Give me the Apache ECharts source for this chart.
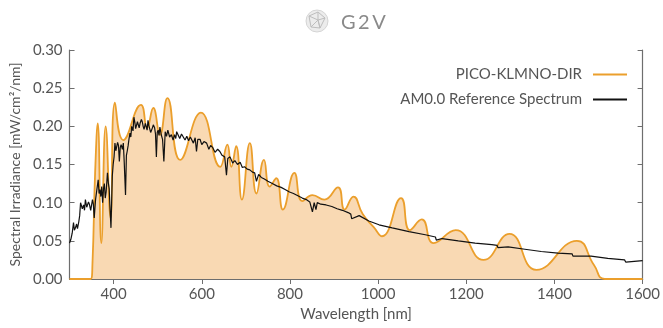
<!DOCTYPE html>
<html>
<head>
<meta charset="utf-8">
<script src="https://cdn.jsdelivr.net/npm/echarts@6/dist/echarts.min.js"></script>
<style>
  body { margin: 0; padding: 0; background: #fff; }
  #chart { width: 663px; height: 328px; }
</style>
</head>
<body>
<div id="chart"></div>
<script>
// PICO-KLMNO-DIR (orange, smooth)
var picoWl = [300, 348, 352, 358, 364, 372, 382, 393, 403, 422, 462, 476, 490, 505, 522, 551, 598, 642, 658, 667, 678, 691, 709, 724, 741, 754, 769, 784, 810, 828, 851, 878, 909, 924, 944, 965, 990, 1009, 1052, 1072, 1099, 1126, 1176, 1239, 1298, 1359, 1451, 1490, 1514, 1600];
var picoVal = [0, 0, 0.02, 0.139, 0.204, 0.047, 0.200, 0.080, 0.231, 0.182, 0.228, 0.198, 0.224, 0.189, 0.237, 0.156, 0.218, 0.147, 0.176, 0.147, 0.174, 0.104, 0.178, 0.112, 0.156, 0.121, 0.132, 0.091, 0.139, 0.102, 0.110, 0.104, 0.120, 0.091, 0.108, 0.085, 0.068, 0.056, 0.106, 0.064, 0.078, 0.047, 0.064, 0.025, 0.059, 0.012, 0.050, 0.018, 0, 0];

// AM0.0 reference spectrum (black)
var amWl = [300, 303, 306, 309, 311, 314, 316, 318, 321, 323, 325, 326, 329, 332, 334, 336, 339, 341, 343, 345, 348, 352, 354, 356, 359, 362, 365, 367, 369, 371, 373, 375, 377, 379, 381, 383, 386, 388, 390, 392, 394, 397, 399, 401, 403, 405, 407, 409, 411, 413, 415, 417, 420, 422, 424, 427, 429, 431, 433, 435, 437, 439, 441, 444, 446, 448, 450, 452, 454, 456, 458, 460, 463, 465, 467, 469, 472, 474, 476, 478, 480, 482, 484, 486, 488, 490, 493, 495, 497, 499, 501, 503, 505, 508, 511, 514, 517, 520, 523, 527, 531, 535, 538, 541, 543, 546, 550, 554, 558, 562, 566, 570, 574, 577, 581, 585, 588, 591, 596, 600, 605, 611, 616, 620, 625, 630, 636, 641, 646, 652, 656, 659, 664, 670, 675, 681, 687, 692, 697, 703, 709, 715, 720, 724, 729, 735, 742, 750, 760, 770, 780, 790, 799, 808, 818, 828, 837, 845, 848, 851, 855, 859, 862, 870, 882, 895, 907, 919, 932, 938, 940, 957, 979, 1002, 1032, 1070, 1107, 1130, 1132, 1145, 1182, 1220, 1258, 1270, 1272, 1295, 1333, 1370, 1408, 1440, 1442, 1446, 1483, 1521, 1559, 1562, 1600];
var amVal = [0.047, 0.052, 0.060, 0.074, 0.064, 0.068, 0.072, 0.066, 0.075, 0.083, 0.100, 0.099, 0.092, 0.097, 0.090, 0.104, 0.094, 0.095, 0.101, 0.098, 0.090, 0.104, 0.098, 0.080, 0.104, 0.117, 0.130, 0.112, 0.117, 0.108, 0.121, 0.100, 0.118, 0.125, 0.106, 0.114, 0.139, 0.126, 0.118, 0.091, 0.067, 0.135, 0.150, 0.160, 0.178, 0.168, 0.166, 0.179, 0.175, 0.154, 0.172, 0.176, 0.170, 0.178, 0.154, 0.110, 0.162, 0.168, 0.175, 0.184, 0.191, 0.186, 0.200, 0.194, 0.212, 0.206, 0.197, 0.199, 0.206, 0.208, 0.198, 0.204, 0.209, 0.206, 0.200, 0.196, 0.204, 0.206, 0.195, 0.208, 0.201, 0.200, 0.192, 0.191, 0.198, 0.202, 0.198, 0.190, 0.160, 0.192, 0.195, 0.188, 0.199, 0.189, 0.183, 0.154, 0.193, 0.187, 0.195, 0.186, 0.189, 0.182, 0.189, 0.184, 0.193, 0.191, 0.184, 0.190, 0.186, 0.182, 0.187, 0.181, 0.186, 0.184, 0.178, 0.185, 0.167, 0.183, 0.183, 0.176, 0.180, 0.178, 0.170, 0.175, 0.172, 0.166, 0.170, 0.167, 0.162, 0.160, 0.136, 0.158, 0.160, 0.152, 0.155, 0.150, 0.153, 0.146, 0.147, 0.144, 0.143, 0.140, 0.139, 0.128, 0.137, 0.133, 0.131, 0.128, 0.125, 0.122, 0.120, 0.117, 0.114, 0.112, 0.109, 0.106, 0.104, 0.101, 0.099, 0.088, 0.100, 0.091, 0.100, 0.098, 0.097, 0.095, 0.092, 0.090, 0.087, 0.085, 0.079, 0.083, 0.076, 0.071, 0.067, 0.062, 0.058, 0.055, 0.051, 0.053, 0.050, 0.047, 0.045, 0.044, 0.041, 0.042, 0.039, 0.036, 0.034, 0.033, 0.030, 0.032, 0.030, 0.027, 0.025, 0.022, 0.024];

var xTicks = [400, 600, 800, 1000, 1200, 1400, 1600];

function zip(a, b) {
  var out = [];
  for (var i = 0; i < a.length; ++i) out.push([a[i], b[i]]);
  return out;
}

var chart = echarts.init(document.getElementById('chart'));
var textColor = '#555';
var axisColor = '#6e6e6e';
var font = 'Lato';

var option = {
  animation: false,
  title: {
    text: 'G\u20092\u2009V',
    left: 336,
    top: 8,
    textStyle: { fontFamily: font, fontSize: 20, fontWeight: 'normal', color: '#8a8a8a' }
  },
  graphic: [
    { type: 'circle', shape: { cx: 317, cy: 21, r: 11 }, style: { fill: '#ececec', stroke: '#d4d4d4', lineWidth: 1 } },
    { type: 'polyline', shape: { points: [[309, 16], [318, 12], [325, 18], [320, 28], [311, 27], [309, 16], [318, 20], [325, 18]] }, style: { stroke: '#bdbdbd', lineWidth: 1, fill: null } },
    { type: 'polyline', shape: { points: [[318, 12], [318, 20], [320, 28], [318, 20], [311, 27]] }, style: { stroke: '#bdbdbd', lineWidth: 1, fill: null } }
  ],
  legend: {
    orient: 'vertical',
    right: 31,
    top: 62,
    align: 'right',
    itemWidth: 34,
    itemHeight: 2,
    itemGap: 10,
    icon: 'rect',
    textStyle: { fontFamily: font, fontSize: 15, color: textColor, padding: [0, 6, 0, 0] },
    data: ['PICO-KLMNO-DIR', 'AM0.0 Reference Spectrum']
  },
  grid: { left: 69, right: 18, top: 50, bottom: 49 },
  xAxis: [
    {
      type: 'value', min: 300, max: 1600,
      name: 'Wavelength [nm]', nameLocation: 'middle', nameGap: 27,
      nameTextStyle: { fontFamily: font, fontSize: 15, color: textColor },
      axisLine: { show: true, lineStyle: { color: axisColor, width: 1.2 } },
      axisTick: { show: true, inside: true, length: 5, customValues: xTicks, lineStyle: { color: axisColor } },
      axisLabel: { customValues: xTicks, fontFamily: font, fontSize: 15, color: textColor, margin: 8,
        formatter: function (v) { return String(v); } },
      splitLine: { show: false }
    },
    {
      type: 'value', min: 300, max: 1600, position: 'top',
      axisLine: { show: true, lineStyle: { color: axisColor, width: 1.2 } },
      axisTick: { show: true, inside: true, length: 5, customValues: xTicks, lineStyle: { color: axisColor } },
      axisLabel: { show: false },
      splitLine: { show: false }
    }
  ],
  yAxis: [
    {
      type: 'value', min: 0, max: 0.3, interval: 0.05,
      name: 'Spectral Irradiance [mW/cm\u00b2/nm]', nameLocation: 'middle', nameGap: 47, nameRotate: 90,
      nameTextStyle: { fontFamily: font, fontSize: 14, color: textColor },
      axisLine: { show: true, lineStyle: { color: axisColor, width: 1.2 } },
      axisTick: { show: true, inside: true, length: 5, lineStyle: { color: axisColor } },
      axisLabel: { fontFamily: font, fontSize: 15, color: textColor, margin: 7,
        formatter: function (v) { return v.toFixed(2); } },
      splitLine: { show: false }
    },
    {
      type: 'value', min: 0, max: 0.3, interval: 0.05, position: 'right',
      axisLine: { show: true, lineStyle: { color: axisColor, width: 1.2 } },
      axisTick: { show: true, inside: true, length: 5, lineStyle: { color: axisColor } },
      axisLabel: { show: false },
      splitLine: { show: false }
    }
  ],
  series: [
    {
      name: 'PICO-KLMNO-DIR',
      type: 'line',
      smooth: 0.5,
      symbol: 'none',
      color: '#eb9f2c',
      lineStyle: { color: '#eb9f2c', width: 1.8 },
      areaStyle: { color: '#f9d9b3', opacity: 1 },
      data: zip(picoWl, picoVal)
    },
    {
      name: 'AM0.0 Reference Spectrum',
      type: 'line',
      symbol: 'none',
      color: '#111',
      lineStyle: { color: '#111', width: 1.2 },
      data: zip(amWl, amVal)
    }
  ]
};
chart.setOption(option);
</script>
</body>
</html>
